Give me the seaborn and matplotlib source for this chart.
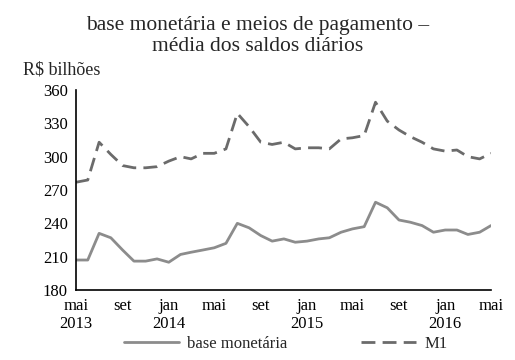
import numpy as np
import pandas as pd
import matplotlib
matplotlib.use("Agg")
import matplotlib.pyplot as plt
import seaborn as sns

# monthly averages, mai/2013 .. mai/2016 (R$ bilhões)
meses = pd.date_range("2013-05-01", periods=37, freq="MS")
base_monetaria = [207, 207, 231, 227, 216, 206, 206, 208,
                  205, 212, 214, 216, 218, 222, 240, 236, 229, 224, 226, 223,
                  224, 226, 227, 232, 235, 237, 259, 254, 243, 241, 238, 232,
                  234, 234, 230, 232, 238]
m1 = [277, 279, 313, 302, 292, 290, 290, 291,
      296, 300, 298, 303, 303, 307, 339, 327, 313, 311, 313, 307,
      308, 308, 307, 316, 317, 319, 349, 332, 324, 318, 313, 307,
      305, 306, 300, 298, 303]
tick_labels = ["mai\n2013", "set", "jan\n2014", "mai", "set", "jan\n2015",
               "mai", "set", "jan\n2016", "mai"]
yticks = [180, 210, 240, 270, 300, 330, 360]

df = pd.DataFrame({
    "mes": list(meses) * 2,
    "valor": base_monetaria + m1,
    "serie": ["base monetária"] * len(meses) + ["M1"] * len(meses),
})

sns.set_style("white")
plt.rcParams["font.family"] = ["Liberation Serif", "DejaVu Serif"]

fig = plt.figure(figsize=(5.15, 3.6), dpi=100)
ax = fig.add_axes([0.1476, 0.1944, 0.8058, 0.5556])

sns.lineplot(data=df, x="mes", y="valor", hue="serie", style="serie",
             palette={"base monetária": "#8c8c8c", "M1": "#6b6b6b"},
             dashes={"base monetária": "", "M1": (5, 2.6)},
             linewidth=2, ax=ax)

ax.set_xlim(meses[0], meses[-1])
ax.set_ylim(180, 360)
ax.set_yticks(yticks)
ax.set_yticklabels([str(v) for v in yticks], fontsize=12)
ax.set_xticks(meses[::4])
ax.set_xticklabels(tick_labels, fontsize=12, linespacing=1.1)
ax.set_xlabel("")
ax.set_ylabel("")

sns.despine(ax=ax)
for s in ["left", "bottom"]:
    ax.spines[s].set_color("black")
    ax.spines[s].set_linewidth(1.2)
ax.tick_params(axis="both", direction="out", length=4, width=1.2,
               color="black", pad=2, labelcolor="black")

handles, labels = ax.get_legend_handles_labels()
ax.legend(handles, labels, loc="upper center", bbox_to_anchor=(0.505, -0.195),
          ncol=2, frameon=False, fontsize=12, handlelength=3.3,
          columnspacing=4.4, handletextpad=0.5, borderaxespad=0)

fig.text(0.5, 0.9, "base monetária e meios de pagamento –\nmédia dos saldos diários",
         ha="center", va="center", fontsize=15.5, linespacing=1.08)
fig.text(0.045, 0.805, "R$ bilhões", ha="left", va="center", fontsize=13)

fig.savefig("out.png", dpi=100, facecolor="white")
